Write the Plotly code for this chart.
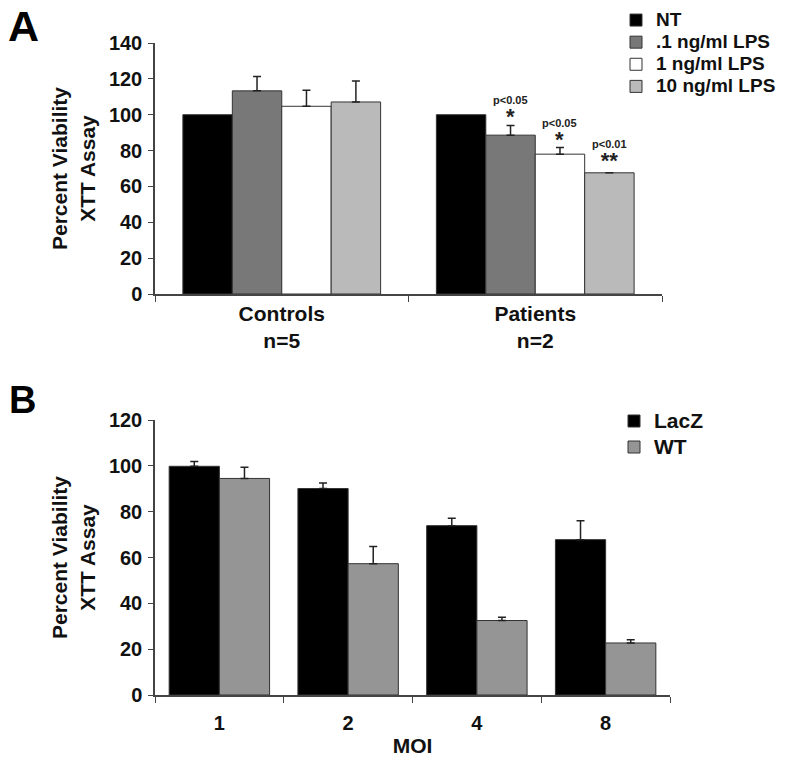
import plotly.graph_objects as go

# ---------------- Panel A data ----------------
a_groups = ["Controls<br>n=5", "Patients<br>n=2"]
a_series = ["NT", ".1 ng/ml LPS", "1 ng/ml LPS", "10 ng/ml LPS"]
a_nt = [100, 100]
a_lps01 = [113.3, 88.6]
a_lps1 = [104.7, 78.0]
a_lps10 = [107.1, 67.6]
a_lps01_err = [8.0, 5.4]
a_lps1_err = [9.0, 3.7]
a_lps10_err = [11.7, 0.0]
a_pvals = ["p<0.05", "p<0.05", "p<0.01"]
a_stars = ["*", "*", "**"]

# ---------------- Panel B data ----------------
b_moi = ["1", "2", "4", "8"]
b_series = ["LacZ", "WT"]
b_lacz = [99.8, 90.1, 73.9, 67.8]
b_lacz_err = [2.1, 2.4, 3.2, 8.2]
b_wt = [94.5, 57.3, 32.5, 22.7]
b_wt_err = [4.9, 7.5, 1.4, 1.4]

FONT = "Liberation Sans, Arial, sans-serif"
EDGE = "#333333"

W, H = 800, 765


def px(x):
    return x / W


def py(y):
    return 1 - y / H


def legend_name(s, size):
    return f"<span style='font-size:{size}px'>{s}</span>"


fig = go.Figure()

a_vals = [a_nt, a_lps01, a_lps1, a_lps10]
a_errs = [None, a_lps01_err, a_lps1_err, a_lps10_err]
a_cols = ["#000000", "#787878", "#ffffff", "#bababa"]
for name, vals, errs, col in zip(a_series, a_vals, a_errs, a_cols):
    kw = {}
    if errs is not None:
        kw["error_y"] = dict(type="data", array=errs, arrayminus=[0] * len(errs),
                             symmetric=False, color="#222222", thickness=1.5, width=4)
    fig.add_trace(go.Bar(x=a_groups, y=vals, name=legend_name(name, 19), marker_color=col,
                         marker_line=dict(color=EDGE, width=1),
                         xaxis="x", yaxis="y", legend="legend", **kw))

for name, vals, errs, col in zip(b_series, [b_lacz, b_wt], [b_lacz_err, b_wt_err],
                                 ["#000000", "#959595"]):
    fig.add_trace(go.Bar(x=b_moi, y=vals, name=legend_name(name, 21), marker_color=col,
                         marker_line=dict(color=EDGE, width=1),
                         error_y=dict(type="data", array=errs, arrayminus=[0] * len(errs),
                                      symmetric=False, color="#222222", thickness=1.5, width=4),
                         xaxis="x2", yaxis="y2", legend="legend2"))

tickfont = dict(family=FONT, size=20, color="#111111", weight="bold")
catfont = dict(family=FONT, size=21, color="#111111", weight="bold")
titlefont = dict(family=FONT, size=21, color="#111111", weight="bold")

common_y = dict(showline=True, linecolor="#444444", linewidth=1.5, ticks="outside",
                ticklen=5, tickcolor="#444444", tickfont=tickfont, showgrid=False,
                zeroline=False, ticklabelstandoff=2)
common_x = dict(showline=True, linecolor="#444444", linewidth=1.5, ticks="outside",
                ticklen=6, tickcolor="#444444", tickson="boundaries",
                showgrid=False)

fig.update_layout(
    width=W, height=H,
    margin=dict(l=0, r=0, t=0, b=0, autoexpand=False),
    paper_bgcolor="white", plot_bgcolor="white",
    barmode="group", bargap=0.22, bargroupgap=0,
    font=dict(family=FONT, color="#111111"),
    xaxis=dict(domain=[px(155), px(662)], anchor="y", tickfont=catfont, **common_x),
    yaxis=dict(domain=[py(294), py(43)], anchor="x", range=[0, 140], dtick=20,
               title=dict(text="Percent Viability<br>XTT Assay", font=titlefont, standoff=8),
               **common_y),
    xaxis2=dict(domain=[px(155), px(670)], anchor="y2", tickfont=tickfont,
                ticklabelstandoff=9,
                title=dict(text="MOI", font=titlefont, standoff=6), **common_x),
    yaxis2=dict(domain=[py(695), py(420)], anchor="x2", range=[0, 120], dtick=20,
                title=dict(text="Percent Viability<br>XTT Assay", font=titlefont, standoff=8),
                **common_y),
    legend=dict(x=px(616), y=py(4), xanchor="left", yanchor="top",
                font=dict(family=FONT, size=14.7, color="#111111", weight="bold"),
                bgcolor="rgba(0,0,0,0)", itemwidth=30, tracegroupgap=0),
    legend2=dict(x=px(614), y=py(403), xanchor="left", yanchor="top",
                 font=dict(family=FONT, size=17.7, color="#111111", weight="bold"),
                 bgcolor="rgba(0,0,0,0)", itemwidth=30, tracegroupgap=0),
    showlegend=True,
)

# panel letters
fig.add_annotation(text="A", x=px(6), y=py(0), xref="paper", yref="paper",
                   xanchor="left", yanchor="top", showarrow=False,
                   font=dict(family=FONT, size=43, color="#000000", weight="bold"))
fig.add_annotation(text="B", x=px(7), y=py(377), xref="paper", yref="paper",
                   xanchor="left", yanchor="top", showarrow=False,
                   font=dict(family=FONT, size=38, color="#000000", weight="bold"))

# significance marks above the patient LPS bars (p-value with its star(s) below)
tops = [a_lps01[1] + a_lps01_err[1], a_lps1[1] + a_lps1_err[1], a_lps10[1] + a_lps10_err[1]]
shifts = [-25, 24.5, 74]
lifts = [0, -1, 3]
for top, dx, lift, p, s in zip(tops, shifts, lifts, a_pvals, a_stars):
    label = (f"<span style='font-size:11px'>{p}</span><br>"
             f"<span style='font-size:22px'>{s}</span>")
    fig.add_annotation(text=label, x=a_groups[1], y=top, xref="x", yref="y", xshift=dx,
                       yshift=14 + lift, showarrow=False, yanchor="middle",
                       font=dict(family=FONT, size=15.5, color="#222222", weight="bold"))

fig.write_html("out.html", config={"displayModeBar": False},
               post_script="document.body.style.margin='0';")
